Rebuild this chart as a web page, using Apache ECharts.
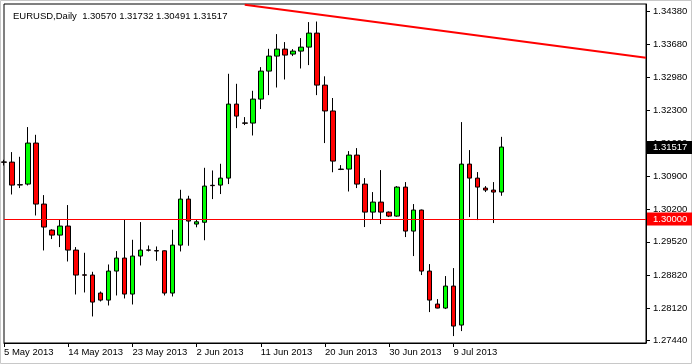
<!DOCTYPE html>
<html><head><meta charset="utf-8">
<script src="https://cdn.jsdelivr.net/npm/echarts@6/dist/echarts.min.js"></script>
<style>html,body{margin:0;padding:0;background:#fff}#c{width:692px;height:364px}</style>
</head><body><div id="c"></div>
<script>
const symbol = 'EURUSD,Daily';
const categories = [
 '5 May 2013','6 May 2013','7 May 2013','8 May 2013','9 May 2013','10 May 2013','12 May 2013','13 May 2013',
 '14 May 2013','15 May 2013','16 May 2013','17 May 2013','19 May 2013','20 May 2013','21 May 2013','22 May 2013',
 '23 May 2013','24 May 2013','26 May 2013','27 May 2013','28 May 2013','29 May 2013','30 May 2013','31 May 2013',
 '2 Jun 2013','3 Jun 2013','4 Jun 2013','5 Jun 2013','6 Jun 2013','7 Jun 2013','9 Jun 2013','10 Jun 2013',
 '11 Jun 2013','12 Jun 2013','13 Jun 2013','14 Jun 2013','16 Jun 2013','17 Jun 2013','18 Jun 2013','19 Jun 2013',
 '20 Jun 2013','21 Jun 2013','23 Jun 2013','24 Jun 2013','25 Jun 2013','26 Jun 2013','27 Jun 2013','28 Jun 2013',
 '30 Jun 2013','1 Jul 2013','2 Jul 2013','3 Jul 2013','4 Jul 2013','5 Jul 2013','7 Jul 2013','8 Jul 2013',
 '9 Jul 2013','10 Jul 2013','11 Jul 2013','12 Jul 2013','14 Jul 2013','15 Jul 2013','16 Jul 2013'
];
const opens = [1.31204,1.31200,1.30725,1.30737,1.31601,1.30316,1.29768,1.29663,1.29853,1.29347,
 1.28826,1.28821,1.28442,1.28294,1.28905,1.29179,1.28421,1.29221,1.29350,1.29336,
 1.29332,1.28442,1.29452,1.30421,1.29895,1.29933,1.30712,1.30716,1.30863,1.32422,
 1.32026,1.32022,1.32527,1.33117,1.33433,1.33580,1.33475,1.33538,1.33622,1.33917,
 1.32822,1.32277,1.31053,1.31053,1.31348,1.30737,1.30147,1.30358,1.30147,1.30063,
 1.30674,1.29747,1.30190,1.28905,1.28210,1.28126,1.28589,1.27768,1.31158,1.30863,
 1.30653,1.30611,1.30570];
const closes = [1.31196,1.30716,1.30718,1.31601,1.30316,1.29832,1.29663,1.29853,1.29347,1.28821,
 1.28818,1.28252,1.28294,1.28905,1.29179,1.28421,1.29221,1.29347,1.29345,1.29328,
 1.28442,1.29452,1.30421,1.29958,1.29943,1.30695,1.30704,1.30863,1.32422,1.32169,
 1.32018,1.32527,1.33117,1.33433,1.33580,1.33454,1.33538,1.33622,1.33917,1.32822,
 1.32277,1.31221,1.31045,1.31348,1.30737,1.30147,1.30358,1.30147,1.30063,1.30674,
 1.29747,1.30190,1.28905,1.28294,1.28126,1.28589,1.27747,1.31158,1.30863,1.30674,
 1.30611,1.30569,1.31517];
const lows = [1.31129,1.30518,1.30653,1.30708,1.30076,1.29339,1.29579,1.29410,1.29107,1.28412,
 1.28454,1.27949,1.28265,1.28180,1.28391,1.28328,1.28201,1.29023,1.29318,1.29122,
 1.28391,1.28370,1.29318,1.29438,1.29827,1.29554,1.30421,1.30527,1.30737,1.31916,
 1.31980,1.31761,1.32317,1.32611,1.32771,1.32940,1.33433,1.33172,1.33243,1.32611,
 1.31601,1.30986,1.31032,1.30581,1.30653,1.29832,1.30000,1.29895,1.30042,1.30050,
 1.29621,1.29221,1.28821,1.28041,1.28120,1.28105,1.27536,1.27641,1.30042,1.29979,
 1.30569,1.29916,1.30491];
const highs = [1.31249,1.31411,1.31312,1.31938,1.31775,1.30505,1.29785,1.30000,1.30295,1.29410,
 1.29290,1.28890,1.28475,1.29044,1.29326,1.30000,1.29564,1.29937,1.29444,1.29423,
 1.29340,1.29775,1.30617,1.30491,1.30000,1.31080,1.31024,1.31165,1.33060,1.32849,
 1.32148,1.32702,1.33201,1.33586,1.33896,1.33728,1.33580,1.33812,1.34149,1.34161,
 1.33007,1.32550,1.31137,1.31432,1.31495,1.30863,1.30569,1.31032,1.30160,1.30695,
 1.30779,1.30316,1.30200,1.29052,1.28315,1.28800,1.28968,1.32043,1.31453,1.30990,
 1.30695,1.30779,1.31732];
const yTicks = [1.34380,1.33680,1.32980,1.32300,1.31600,1.30900,1.30200,1.29520,1.28820,1.28120,1.27440];
const yMin = 1.2739, yMax = 1.3453;
const levelLine = 1.30000;
const trendStart = [30.2, 1.34513];
const trendEnd = [80, 1.33397];
const padCount = 18;
const labelEvery = 8;

const last = opens.length - 1;
const lastClose = closes[last];
const headerText = symbol + '  ' + [opens[last], highs[last], lows[last], closes[last]].map(v => v.toFixed(5)).join(' ');
const axisCats = categories.concat(Array.from({length: padCount}, (_, i) => 'pad' + i));
const candleData = opens.map((o, i) => [o, closes[i], lows[i], highs[i]]);
const FONT = 'Liberation Sans';
const showIdx = (idx) => idx % labelEvery === 0 && idx < categories.length;

const chart = echarts.init(document.getElementById('c'), null, {renderer: 'canvas'});
chart.setOption({
  animation: false,
  backgroundColor: '#ffffff',
  title: {text: headerText, left: 8, top: 6, textStyle: {fontFamily: FONT, fontSize: 9.5, fontWeight: 'normal', color: '#000'}},
  grid: {left: 4, right: 46, top: 4, bottom: 21, show: true, borderColor: '#000', borderWidth: 1, backgroundColor: '#fff'},
  xAxis: {
    type: 'category', data: axisCats, boundaryGap: false,
    axisLine: {show: true, lineStyle: {color: '#000', width: 1}},
    axisTick: {show: true, interval: showIdx, length: 4, lineStyle: {color: '#000'}},
    axisLabel: {interval: showIdx, align: 'left', margin: 4, fontFamily: FONT, fontSize: 9.5, color: '#000'},
    splitLine: {show: false}
  },
  yAxis: {
    type: 'value', position: 'right', min: yMin, max: yMax, scale: true,
    axisLine: {show: true, lineStyle: {color: '#000', width: 1}},
    axisTick: {show: true, customValues: yTicks, length: 4, lineStyle: {color: '#000'}},
    axisLabel: {customValues: yTicks, formatter: v => v.toFixed(5), margin: 7, fontFamily: FONT, fontSize: 9.5, color: '#000'},
    splitLine: {show: false}
  },
  series: [{
    type: 'candlestick',
    data: candleData,
    barWidth: 5,
    itemStyle: {color: '#00ff00', color0: '#ff0000', borderColor: '#000', borderColor0: '#000', borderColorDoji: '#000', borderWidth: 1},
    markLine: {
      silent: true, symbol: 'none', animation: false,
      data: [
        [{coord: trendStart, lineStyle: {color: '#ff0000', width: 2, type: 'solid'}, label: {show: false}}, {coord: trendEnd}],
        {yAxis: levelLine, lineStyle: {color: '#ff0000', width: 1, type: 'solid'},
         label: {show: true, position: 'end', distance: 1, formatter: levelLine.toFixed(5), color: '#fff', backgroundColor: '#ff0000', padding: [2, 8, 1, 6], fontFamily: FONT, fontSize: 9.5}}
      ]
    }
  }]
});

// current price tag on the price axis, placed through the axis scale
const yc = chart.convertToPixel({yAxisIndex: 0}, lastClose);
const gridRight = 692 - 46;
chart.setOption({
  graphic: [
    {type: 'rect', silent: true, shape: {x: 0.5, y: 0.5, width: 691, height: 363}, style: {fill: 'none', stroke: '#c8c8c8', lineWidth: 1}},
    {type: 'rect', silent: true, z: 100, shape: {x: gridRight + 1, y: Math.round(yc) - 6, width: 692 - gridRight - 1, height: 13}, style: {fill: '#000'}},
    {type: 'text', silent: true, z: 101, x: gridRight + 7, y: Math.round(yc) + 0.5, style: {text: lastClose.toFixed(5), fill: '#fff', font: '9.5px "Liberation Sans"', verticalAlign: 'middle', align: 'left'}}
  ]
});
</script></body></html>
